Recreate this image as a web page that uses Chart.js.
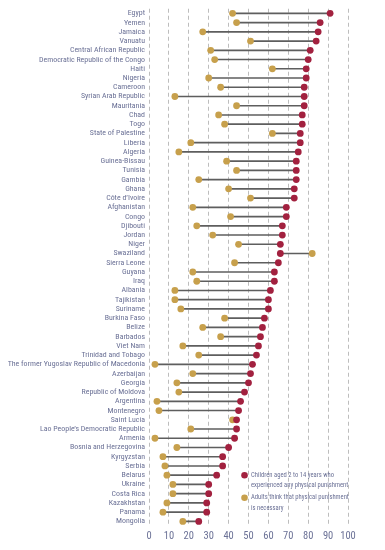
<!DOCTYPE html>
<html>
<head>
<meta charset="utf-8">
<script src="https://cdn.jsdelivr.net/npm/chart.js@4"></script>
<style>
  body { margin: 0; background: #fff; }
  #wrap { width: 385px; height: 550px; position: relative; }
</style>
</head>
<body>
<div id="wrap"><canvas id="dash"></canvas></div>
<script>
const countries = ['Egypt', 'Yemen', 'Jamaica', 'Vanuatu', 'Central African Republic', 'Democratic Republic of the Congo', 'Haiti', 'Nigeria', 'Cameroon', 'Syrian Arab Republic', 'Mauritania', 'Chad', 'Togo', 'State of Palestine', 'Liberia', 'Algeria', 'Guinea-Bissau', 'Tunisia', 'Gambia', 'Ghana', 'Côte d\u2019Ivoire', 'Afghanistan', 'Congo', 'Djibouti', 'Jordan', 'Niger', 'Swaziland', 'Sierra Leone', 'Guyana', 'Iraq', 'Albania', 'Tajikistan', 'Suriname', 'Burkina Faso', 'Belize', 'Barbados', 'Viet Nam', 'Trinidad and Tobago', 'The former Yugoslav Republic of Macedonia', 'Azerbaijan', 'Georgia', 'Republic of Moldova', 'Argentina', 'Montenegro', 'Saint Lucia', 'Lao People\u2019s Democratic Republic', 'Armenia', 'Bosnia and Herzegovina', 'Kyrgyzstan', 'Serbia', 'Belarus', 'Ukraine', 'Costa Rica', 'Kazakhstan', 'Panama', 'Mongolia'];

// Children aged 2 to 14 years who experienced any physical punishment (%)
const children = [91, 86, 85, 84, 81, 80, 79, 79, 78, 78, 78, 77, 77, 76, 76, 75, 74, 74, 74, 73, 73, 69, 69, 67, 67, 66, 66, 65, 63, 63, 61, 60, 60, 58, 57, 56, 55, 54, 52, 51, 50, 48, 46, 45, 44, 44, 43, 40, 37, 37, 34, 30, 30, 29, 29, 25];

// Adults who think that physical punishment is necessary (%)
const adults = [42, 44, 27, 51, 31, 33, 62, 30, 36, 13, 44, 35, 38, 62, 21, 15, 39, 44, 25, 40, 51, 22, 41, 24, 32, 45, 82, 43, 22, 24, 13, 13, 16, 38, 27, 36, 17, 25, 3, 22, 14, 15, 4, 5, 42, 21, 3, 14, 7, 8, 9, 12, 12, 9, 7, 17];

const xTicks = [0, 10, 20, 30, 40, 50, 60, 70, 80, 90, 100];

const legendItems = [
  { color: '#a2213f', lines: ['Children aged 2 to 14 years who', 'experienced any physical punishment'] },
  { color: '#c7a04c', lines: ['Adults think that physical punishment', 'is necessary'] },
];

const textColor = '#6b7196';
const fontFamily = "'Roboto Condensed', 'DejaVu Sans Condensed', sans-serif";

// legend drawn inside the plot, bottom right
const innerLegend = {
  id: 'innerLegend',
  afterDatasetsDraw(chart) {
    const ctx = chart.ctx;
    const xs = chart.scales.x;
    const ys = chart.scales.y;
    const dotX = xs.getPixelForValue(48);
    const startY = ys.getPixelForValue(countries.indexOf('Belarus'));
    ctx.save();
    ctx.font = '6.6px ' + fontFamily;
    ctx.textBaseline = 'middle';
    legendItems.forEach((item, i) => {
      const y = startY + i * 22.5;
      ctx.beginPath();
      ctx.arc(dotX, y, 3.3, 0, Math.PI * 2);
      ctx.fillStyle = item.color;
      ctx.fill();
      ctx.fillStyle = textColor;
      item.lines.forEach((line, j) => {
        ctx.fillText(line, dotX + 6.5, y + j * 10.5);
      });
    });
    ctx.restore();
  },
};

new Chart(document.getElementById('dash'), {
  data: {
    labels: countries,
    datasets: [
      {
        type: 'line',
        label: 'Children aged 2 to 14 years who experienced any physical punishment',
        data: children,
        showLine: false,
        pointRadius: 3.4,
        pointBorderWidth: 0,
        pointBackgroundColor: '#a2213f',
        order: 0,
      },
      {
        type: 'line',
        label: 'Adults think that physical punishment is necessary',
        data: adults,
        showLine: false,
        pointRadius: 3.4,
        pointBorderWidth: 0,
        pointBackgroundColor: '#c7a04c',
        order: 1,
      },
      {
        type: 'bar',
        label: 'gap',
        data: countries.map((c, i) => [adults[i], children[i]]),
        backgroundColor: '#5e5e5e',
        barThickness: 1,
        order: 2,
      },
    ],
  },
  options: {
    indexAxis: 'y',
    responsive: true,
    maintainAspectRatio: false,
    animation: false,
    layout: { padding: { top: 0, right: 37, bottom: 0, left: 0 } },
    scales: {
      x: {
        type: 'linear',
        min: 0,
        max: 100,
        afterBuildTicks(scale) {
          scale.ticks = xTicks.map(v => ({ value: v }));
        },
        afterFit(scale) {
          scale.height = 24;
        },
        grid: {
          color: '#bdbdbd',
          lineWidth: 1,
          drawTicks: false,
        },
        border: { display: false, dash: [4, 3] },
        ticks: {
          color: textColor,
          padding: 4,
          autoSkip: false,
          maxRotation: 0,
          minRotation: 0,
          font: { family: fontFamily, size: 10.5 },
        },
      },
      y: {
        type: 'category',
        offset: true,
        afterFit(scale) {
          scale.width = 149;
        },
        grid: { display: false, drawTicks: false },
        border: { display: false },
        ticks: {
          color: textColor,
          padding: 4,
          autoSkip: false,
          font: { family: fontFamily, size: 7.9 },
        },
      },
    },
    plugins: {
      legend: { display: false },
      tooltip: { enabled: false },
    },
  },
  plugins: [innerLegend],
});
</script>
</body>
</html>
